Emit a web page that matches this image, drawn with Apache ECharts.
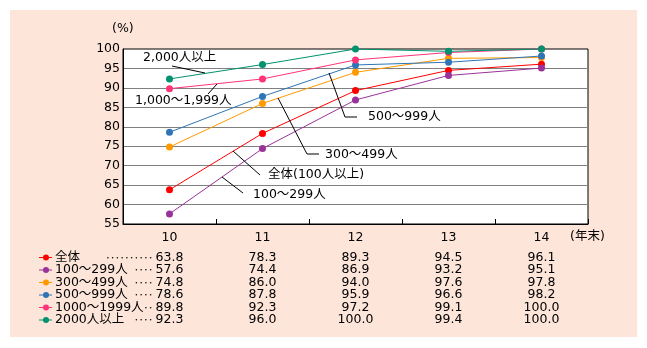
<!DOCTYPE html>
<html><head><meta charset="utf-8">
<script src="https://cdn.jsdelivr.net/npm/echarts@6/dist/echarts.min.js"></script>
<style>html,body{margin:0;padding:0;background:#fff}#c{width:647px;height:348px}</style>
</head><body><div id="c"></div>
<script>
const years = ['10', '11', '12', '13', '14'];
const seriesNames = ['全体', '100～299人', '300～499人', '500～999人', '1000～1999人', '2000人以上'];
const legendDots = ['･･････････', '････', '････', '････', '･･', '････'];
const valAll = [63.8, 78.3, 89.3, 94.5, 96.1];
const val100 = [57.6, 74.4, 86.9, 93.2, 95.1];
const val300 = [74.8, 86.0, 94.0, 97.6, 97.8];
const val500 = [78.6, 87.8, 95.9, 96.6, 98.2];
const val1000 = [89.8, 92.3, 97.2, 99.1, 100.0];
const val2000 = [92.3, 96.0, 100.0, 99.4, 100.0];
const yTicks = [55, 100, 5];
const colors = ['#ff0000', '#993399', '#ff9900', '#2f75b5', '#ff3377', '#00916e'];
const allValues = [valAll, val100, val300, val500, val1000, val2000];

const FONT = '"DejaVu Sans", "Noto Sans CJK JP", sans-serif';
const FS = 12.5;

const chart = echarts.init(document.getElementById('c'), null, {renderer: 'canvas'});

const series = allValues.map((vals, k) => ({
  name: seriesNames[k],
  type: 'line',
  data: vals,
  symbol: 'circle',
  symbolSize: 7,
  showSymbol: true,
  lineStyle: {color: colors[k], width: 1},
  itemStyle: {color: colors[k]},
  emphasis: {disabled: true},
  animation: false,
  z: 3
}));

function txt(x, y, s, align, size) {
  return {type: 'text', x: x, y: y, silent: true, z: 100,
    style: {text: s, fill: '#000', font: (size || FS) + 'px ' + FONT, textAlign: align || 'left', textVerticalAlign: 'middle'}};
}
function pl(points) {
  return {type: 'polyline', silent: true, z: 100, shape: {points: points}, style: {stroke: '#000', lineWidth: 1, fill: null}};
}

const baseGraphics = [
  {type: 'rect', shape: {x: 10, y: 10, width: 627, height: 327}, style: {fill: '#fde5da'}, z: -10, silent: true},
  txt(112, 29, '(%)'),
  txt(570, 237, '(年末)'),
  // annotations
  txt(143, 58, '2,000人以上'), pl([[172, 66], [205, 73]]),
  txt(135, 101, '1,000～1,999人'), pl([[208, 94], [217, 84]]),
  txt(368, 117, '500～999人'), pl([[329, 73], [345, 117], [357, 117]]),
  txt(325, 155, '300～499人'), pl([[278, 98], [307, 154], [319, 154]]),
  txt(268, 175, '全体(100人以上)'), pl([[233, 151], [260, 175]]),
  txt(253, 195, '100～299人'), pl([[222, 177], [243, 193]])
];

chart.setOption({
  animation: false,
  backgroundColor: '#ffffff',
  grid: {left: 123, top: 49, right: 59, bottom: 124, show: true, backgroundColor: '#ffffff', borderColor: '#000', borderWidth: 1},
  xAxis: {
    type: 'category', data: years, boundaryGap: true,
    axisLine: {lineStyle: {color: '#000', width: 1}},
    axisTick: {show: true, inside: true, length: 5, lineStyle: {color: '#000'}},
    axisLabel: {color: '#000', fontSize: FS, fontFamily: FONT, margin: 7},
    splitLine: {show: false}
  },
  yAxis: {
    type: 'value', min: yTicks[0], max: yTicks[1], interval: yTicks[2],
    axisLine: {show: true, lineStyle: {color: '#000', width: 1}},
    axisTick: {show: false},
    axisLabel: {color: '#000', fontSize: FS, fontFamily: FONT, margin: 3},
    splitLine: {show: true, showMinLine: false, showMaxLine: false, lineStyle: {color: '#808080', width: 1}}
  },
  series: series,
  graphic: baseGraphics
});

// legend table below the chart
const rowY0 = 257.5, rowStep = 12.5;
const tableG = [];
seriesNames.forEach((name, k) => {
  const y = rowY0 + k * rowStep;
  tableG.push({type: 'line', silent: true, z: 100, shape: {x1: 39, y1: y, x2: 52, y2: y}, style: {stroke: colors[k], lineWidth: 1}});
  tableG.push({type: 'circle', silent: true, z: 100, shape: {cx: 46, cy: y, r: 3}, style: {fill: colors[k]}});
  tableG.push(txt(55, y, name));
  tableG.push(txt(153, y + 1, legendDots[k], 'right', 9.5));
  allValues[k].forEach((v, i) => {
    const px = chart.convertToPixel({gridIndex: 0}, [i, v])[0];
    tableG.push(txt(px, y, v.toFixed(1), 'center'));
  });
});
chart.setOption({graphic: baseGraphics.concat(tableG)});
</script>
</body></html>
